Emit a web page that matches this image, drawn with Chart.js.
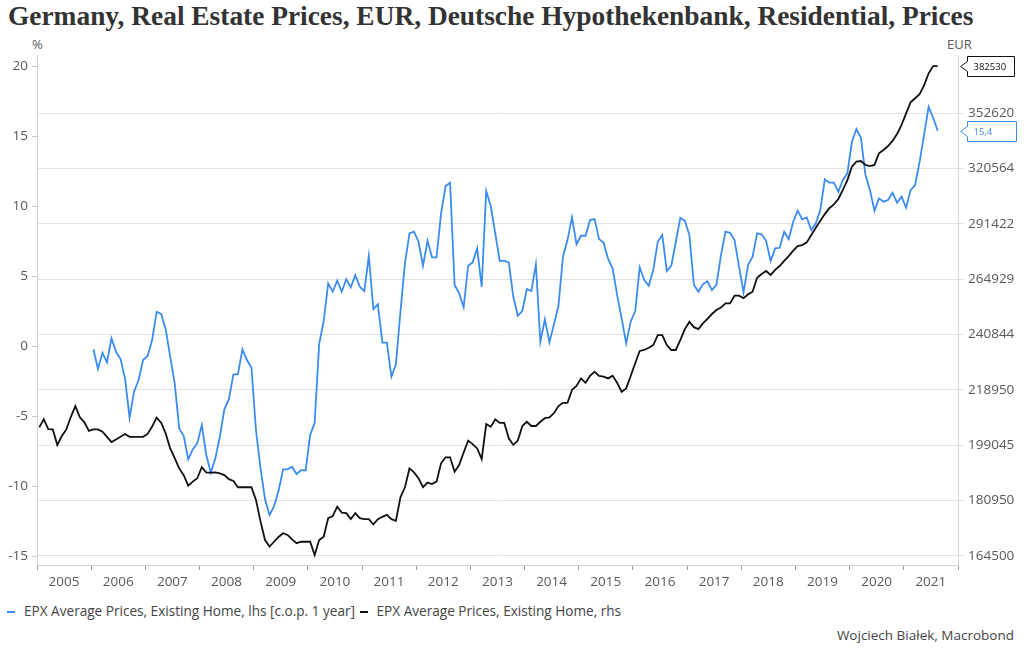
<!DOCTYPE html>
<html>
<head>
<meta charset="utf-8">
<title>Germany, Real Estate Prices</title>
<script src="https://cdn.jsdelivr.net/npm/chart.js@4.4.1/dist/chart.umd.min.js"></script>
<style>
  html, body { margin: 0; padding: 0; background: #fff; }
  #wrap { position: relative; width: 1024px; height: 656px; overflow: hidden; font-family: 'Open Sans', sans-serif; }
  #title { position: absolute; left: 8px; top: 1px; font-family: 'Liberation Serif', serif; font-weight: bold; font-size: 27.4px; color: #333; white-space: nowrap; }
  .unit { position: absolute; top: 35px; font-size: 13px; color: #595959; }
  #legend { position: absolute; left: 7px; top: 601px; font-size: 13.6px; color: #444; white-space: nowrap; }
  .item { display: inline-block; margin-right: 1px; }
  .swatch { display: inline-block; width: 8px; height: 2px; vertical-align: middle; margin-right: 9px; }
  #credit { position: absolute; right: 10px; top: 626px; font-size: 13.5px; color: #444; }
  canvas { position: absolute; left: 0; top: 0; }
</style>
</head>
<body>
<div id="wrap">
  <div id="title">Germany, Real Estate Prices, EUR, Deutsche Hypothekenbank, Residential, Prices</div>
  <div class="unit" style="left:32px">%</div>
  <div class="unit" style="left:947px">EUR</div>
  <canvas id="chart" width="1024" height="600"></canvas>
  <div id="legend">
    <span class="item"><span class="swatch" style="background:#3b8cf2"></span>EPX Average Prices, Existing Home, lhs [c.o.p. 1 year]</span>
    <span class="item"><span class="swatch" style="background:#111"></span>EPX Average Prices, Existing Home, rhs</span>
  </div>
  <div id="credit">Wojciech Białek, Macrobond</div>
</div>
<script>
// monthly series, first observation Jan 2005 (price level) and Jan 2006 (y/y change)
const priceStart = 0;
const yoyStart = 12;

// EPX average price, existing home, EUR (rhs)
const priceLevel = [
  205200, 208100, 204600, 204500, 199100, 202200, 204500, 209000, 212900, 208800,
  207000, 204000, 204500, 204500, 203700, 201900, 200100, 201000, 201900, 202900,
  201900, 201900, 201900, 201900, 202900, 205500, 208700, 206900, 203100, 197900,
  194600, 191200, 189000, 185600, 186900, 188000, 191600, 189800, 189800, 189900,
  189600, 189000, 187700, 187100, 185100, 185100, 185100, 185100, 181100, 174600,
  169000, 167100, 168500, 169900, 171000, 170500, 169200, 168100, 168500, 168500,
  168500, 164700, 169000, 170000, 175500, 176100, 179000, 177200, 177000, 175200,
  177000, 175500, 175200, 175200, 173600, 175200, 175900, 176500, 175200, 174700,
  181900, 185100, 191200, 189900, 188000, 185100, 186600, 186100, 186900, 192900,
  194900, 194900, 190100, 192300, 196500, 200600, 199400, 197900, 194300, 206400,
  205400, 208100, 206800, 206800, 201400, 199100, 200600, 205700, 207200, 205700,
  205700, 207200, 208500, 208800, 210300, 212900, 214100, 214100, 218900, 220400,
  223300, 221600, 224300, 225900, 224300, 224000, 223300, 224300, 221600, 218200,
  219500, 224200, 229200, 234100, 234500, 235400, 236500, 240600, 240600, 236500,
  234500, 234500, 238600, 243100, 246200, 243900, 243100, 245500, 247400, 249500,
  251200, 252300, 254100, 254100, 257500, 257500, 256400, 258100, 259300, 265600,
  267300, 268700, 266900, 269200, 271000, 273400, 275700, 278300, 280500, 281000,
  282300, 285900, 289500, 293000, 296400, 299400, 301400, 304200, 309000, 314300,
  321600, 324400, 324800, 322600, 322000, 322600, 329100, 331000, 333300, 336200,
  340300, 345600, 352600, 359400, 361900, 364400, 370200, 377800, 382500, 382530
];

// same series, % change over 1 year (lhs)
const yoyChange = [
  -0.21, -1.62, -0.46, -1.14, 0.57, -0.39, -0.91, -2.29, -5.1, -3.24,
  -2.41, -0.98, -0.69, 0.45, 2.47, 2.31, 1.24, -0.74, -2.64, -5.86,
  -6.41, -8.07, -7.36, -6.93, -5.62, -7.76, -9.03, -8.0, -6.46, -4.5,
  -3.79, -2.0, -2.0, -0.21, -0.98, -1.53, -5.98, -8.69, -10.91, -12.05,
  -11.41, -10.34, -8.79, -8.79, -8.6, -9.12, -8.84, -8.87, -6.34, -5.46,
  0.16, 1.81, 4.5, 3.9, 4.69, 3.9, 4.79, 4.21, 5.09, 4.26,
  3.95, 6.45, 2.66, 3.0, 0.26, 0.26, -2.17, -1.29, 2.47, 5.93,
  8.07, 8.19, 7.47, 5.76, 7.54, 6.36, 6.36, 9.5, 11.45, 11.69,
  4.38, 3.79, 2.79, 5.76, 6.0, 7.0, 4.24, 11.09, 10.02, 8.07,
  6.11, 6.11, 6.0, 3.54, 2.19, 2.52, 4.09, 3.95, 5.86, 0.33,
  1.93, 0.29, 1.57, 2.9, 6.4, 7.59, 9.21, 7.29, 7.9, 7.9,
  9.02, 9.09, 7.66, 7.4, 6.24, 5.57, 3.66, 2.0, 0.21, 1.76,
  2.52, 5.64, 4.74, 4.33, 5.45, 7.47, 7.95, 5.38, 5.76, 7.47,
  9.19, 8.97, 7.95, 4.38, 3.9, 4.43, 4.66, 4.02, 4.41, 6.52,
  8.19, 8.11, 7.59, 5.69, 3.86, 5.81, 6.4, 8.07, 8.0, 7.52,
  6.09, 7.0, 7.04, 8.19, 7.66, 8.9, 9.69, 9.07, 9.21, 8.31,
  8.79, 9.74, 11.93, 11.69, 11.69, 11.04, 11.88, 12.36, 14.61, 15.52,
  14.9, 12.24, 11.16, 9.69, 10.57, 10.33, 10.45, 10.97, 10.26, 10.69,
  9.9, 11.16, 11.52, 13.19, 15.14, 17.11, 16.33, 15.4
];

const yearLabels = ['2005', '2006', '2007', '2008', '2009', '2010', '2011', '2012', '2013',
  '2014', '2015', '2016', '2017', '2018', '2019', '2020', '2021'];
const leftTicks = [-15, -10, -5, 0, 5, 10, 15, 20];
const rightTicks = [164500, 180950, 199045, 218950, 240844, 264929, 291422, 320564, 352620];

const BLUE = '#3b8cf2';
const BLACK = '#111111';
const tickFont = { family: 'Open Sans', size: 13.5 };

function toPoints(values, start) {
    // one point per month, placed mid-month
    return values.map((v, i) => ({ x: start + i + 0.5, y: v }));
}

// boxed last-value tags at the right axis
const lastValueTags = {
    id: 'lastValueTags',
    afterDatasetsDraw(chart) {
        const ctx = chart.ctx;
        const right = chart.chartArea.right;
        chart.data.datasets.forEach((ds) => {
            const last = ds.data[ds.data.length - 1].y;
            const y = Math.round(chart.scales[ds.yAxisID].getPixelForValue(last)) + 0.5;
            const text = ds.yAxisID === 'y' ? last.toFixed(1).replace('.', ',') : String(last);
            const left = right + 9.5;
            const w = ds.yAxisID === 'y' ? 49 : 47;
            const h = 20;
            ctx.save();
            ctx.beginPath();
            ctx.moveTo(right + 2.5, y);
            ctx.lineTo(left, y - 5);
            ctx.lineTo(left, y - h / 2);
            ctx.lineTo(left + w, y - h / 2);
            ctx.lineTo(left + w, y + h / 2);
            ctx.lineTo(left, y + h / 2);
            ctx.lineTo(left, y + 5);
            ctx.closePath();
            ctx.fillStyle = '#fff';
            ctx.fill();
            ctx.lineWidth = 1;
            ctx.strokeStyle = ds.borderColor;
            ctx.stroke();
            ctx.fillStyle = ds.borderColor;
            ctx.font = '9.5px "Open Sans"';
            ctx.textBaseline = 'middle';
            ctx.fillText(text, left + 6, y + 0.5);
            ctx.restore();
        });
    }
};

const ctx = document.getElementById('chart').getContext('2d');

new Chart(ctx, {
    type: 'line',
    data: {
        datasets: [{
            label: 'EPX Average Prices, Existing Home, lhs [c.o.p. 1 year]',
            data: toPoints(yoyChange, yoyStart),
            yAxisID: 'y',
            borderColor: BLUE,
            borderWidth: 1.8,
            pointRadius: 0,
            tension: 0,
            order: 1
        },
        {
            label: 'EPX Average Prices, Existing Home, rhs',
            data: toPoints(priceLevel, priceStart),
            yAxisID: 'y2',
            borderColor: BLACK,
            borderWidth: 1.8,
            pointRadius: 0,
            tension: 0,
            order: 0
        }]
    },
    options: {
        responsive: false,
        animation: false,
        devicePixelRatio: 1,
        layout: { padding: { top: 55, left: 0, right: 0, bottom: 0 } },
        plugins: {
            legend: { display: false },
            tooltip: { enabled: false },
            title: { display: false }
        },
        scales: {
            x: {
                type: 'linear',
                min: 0,
                max: 204,
                afterBuildTicks: (scale) => {
                    scale.ticks = yearLabels.concat(['']).map((_, i) => ({ value: i * 12 }));
                },
                afterFit: (scale) => { scale.height = 35; },
                grid: { drawOnChartArea: false, tickLength: 5, tickColor: '#9a9a9a' },
                border: { color: '#d4d4d4' },
                ticks: {
                    autoSkip: false,
                    maxRotation: 0,
                    labelOffset: 27,
                    padding: 4,
                    color: '#595959',
                    font: tickFont,
                    callback: (v) => yearLabels[Math.round(v / 12)] || ''
                }
            },
            y: {
                type: 'linear',
                position: 'left',
                min: -15.62,
                max: 20.81,
                afterBuildTicks: (scale) => {
                    scale.ticks = leftTicks.map(v => ({ value: v }));
                },
                afterFit: (scale) => { scale.width = 37; },
                grid: { drawOnChartArea: false, tickLength: 5, tickColor: '#c8c8c8' },
                border: { color: '#d4d4d4' },
                ticks: { padding: 4, color: '#595959', font: tickFont }
            },
            y2: {
                type: 'logarithmic',
                position: 'right',
                min: 161884,
                max: 389896,
                afterBuildTicks: (scale) => {
                    scale.ticks = rightTicks.map(v => ({ value: v }));
                },
                afterFit: (scale) => { scale.width = 66; },
                grid: { color: '#e2e2e2', tickLength: 6 },
                border: { color: '#d4d4d4' },
                ticks: {
                    padding: 4,
                    color: '#595959',
                    font: tickFont,
                    callback: (v) => String(v)
                }
            }
        }
    },
    plugins: [lastValueTags]
});
</script>
</body>
</html>
